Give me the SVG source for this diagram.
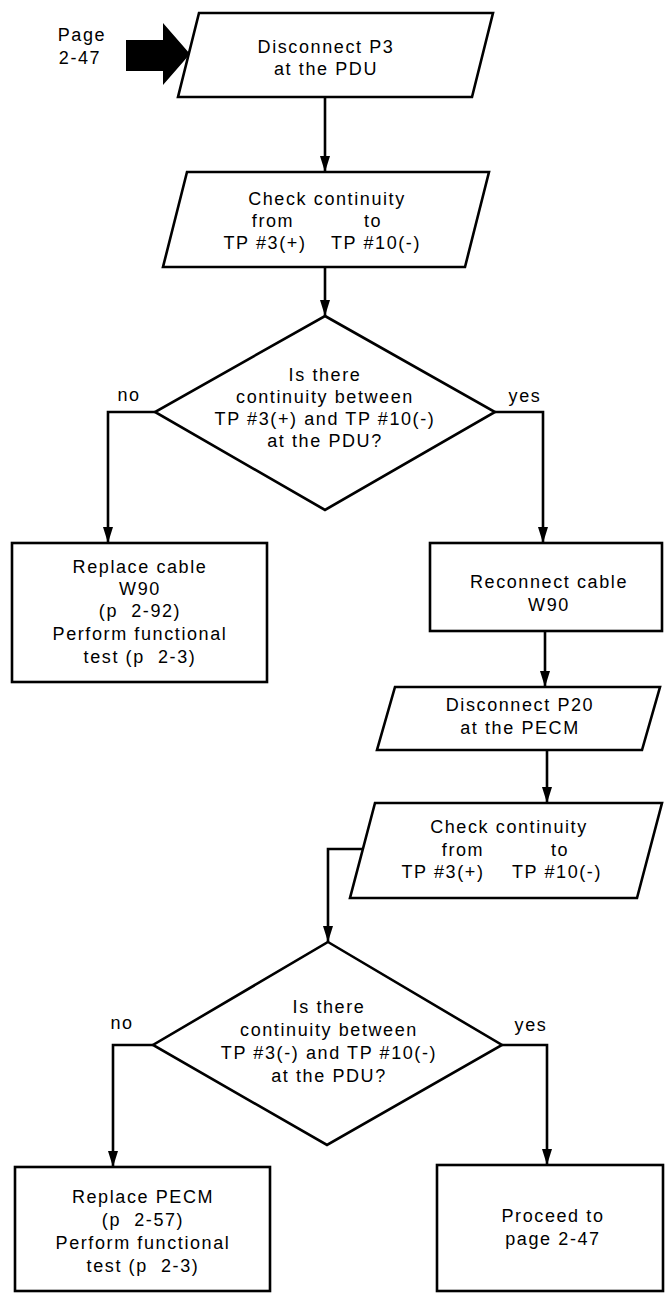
<svg xmlns="http://www.w3.org/2000/svg" width="665" height="1293" viewBox="0 0 665 1293">
<defs>
<style>
.t{font-family:"Liberation Sans",Arial,Helvetica,sans-serif;font-size:18px;letter-spacing:1.6px;fill:#000;text-anchor:middle}
.s{fill:#fff;stroke:#000;stroke-width:2.6;stroke-linejoin:miter}
.c{fill:none;stroke:#000;stroke-width:2.6}
</style>
<marker id="arr" markerUnits="userSpaceOnUse" markerWidth="16" markerHeight="10" refX="16" refY="5" orient="auto" viewBox="0 0 16 10">
<path d="M0,0 L16,5 L0,10 Z" fill="#000"/>
</marker>
</defs>
<rect width="665" height="1293" fill="#fff"/>

<g id="start">
<text class="t" x="82" y="41">Page</text>
<text class="t" x="80" y="64">2-47</text>
<path d="M126,40 H163 V23 L190,54 L163,85 V71 H126 Z" fill="#000"/>
</g>

<g id="connectors">
<line class="c" x1="325" y1="97" x2="325" y2="172" marker-end="url(#arr)"/>
<line class="c" x1="325" y1="267" x2="325" y2="316" marker-end="url(#arr)"/>
<polyline class="c" points="155,412 108,412 108,543" marker-end="url(#arr)"/>
<polyline class="c" points="495,412 543,412 543,543" marker-end="url(#arr)"/>
<line class="c" x1="545" y1="631" x2="545" y2="687" marker-end="url(#arr)"/>
<line class="c" x1="547" y1="750" x2="547" y2="803" marker-end="url(#arr)"/>
<polyline class="c" points="363,849 328,849 328,942" marker-end="url(#arr)"/>
<polyline class="c" points="153,1045 113,1045 113,1167" marker-end="url(#arr)"/>
<polyline class="c" points="502,1045 547,1045 547,1165" marker-end="url(#arr)"/>
<text class="t" x="129" y="401">no</text>
<text class="t" x="525" y="402">yes</text>
<text class="t" x="122" y="1029">no</text>
<text class="t" x="531" y="1031">yes</text>
</g>

<g id="disconnect-p3">
<polygon class="s" points="199,13 493,13 472,97 178,97"/>
<text class="t" x="326" y="53">Disconnect P3</text>
<text class="t" x="326" y="75">at the PDU</text>
</g>

<g id="check-continuity-1">
<polygon class="s" points="187,172 489,172 465,267 163,267"/>
<text class="t" x="327" y="205">Check continuity</text>
<text class="t" x="273" y="227">from</text>
<text class="t" x="373" y="227">to</text>
<text class="t" x="265" y="249">TP #3(+)</text>
<text class="t" x="376" y="249">TP #10(-)</text>
</g>

<g id="decision-1">
<polygon class="s" points="325,316 495,412 325,510 155,412"/>
<text class="t" x="325" y="381">Is there</text>
<text class="t" x="325" y="403">continuity between</text>
<text class="t" x="325" y="425">TP #3(+) and TP #10(-)</text>
<text class="t" x="325" y="447">at the PDU?</text>
</g>

<g id="replace-cable">
<rect class="s" x="12" y="543" width="255" height="139"/>
<text class="t" x="140" y="573">Replace cable</text>
<text class="t" x="140" y="595">W90</text>
<text class="t" x="140" y="617" xml:space="preserve">(p  2-92)</text>
<text class="t" x="140" y="640">Perform functional</text>
<text class="t" x="140" y="663" xml:space="preserve">test (p  2-3)</text>
</g>

<g id="reconnect-cable">
<rect class="s" x="430" y="543" width="232" height="88"/>
<text class="t" x="549" y="588">Reconnect cable</text>
<text class="t" x="549" y="611">W90</text>
</g>

<g id="disconnect-p20">
<polygon class="s" points="395,687 660,687 642,750 377,750"/>
<text class="t" x="520" y="711">Disconnect P20</text>
<text class="t" x="520" y="734">at the PECM</text>
</g>

<g id="check-continuity-2">
<polygon class="s" points="375,803 662,803 637,898 350,898"/>
<text class="t" x="509" y="833">Check continuity</text>
<text class="t" x="463" y="856">from</text>
<text class="t" x="560" y="856">to</text>
<text class="t" x="443" y="878">TP #3(+)</text>
<text class="t" x="557" y="878">TP #10(-)</text>
</g>

<g id="decision-2">
<polygon class="s" points="328,942 502,1045 327,1145 153,1045"/>
<text class="t" x="329" y="1013">Is there</text>
<text class="t" x="329" y="1036">continuity between</text>
<text class="t" x="329" y="1059">TP #3(-) and TP #10(-)</text>
<text class="t" x="329" y="1082">at the PDU?</text>
</g>

<g id="replace-pecm">
<rect class="s" x="15" y="1167" width="255" height="124"/>
<text class="t" x="143" y="1203">Replace PECM</text>
<text class="t" x="143" y="1226" xml:space="preserve">(p  2-57)</text>
<text class="t" x="143" y="1249">Perform functional</text>
<text class="t" x="143" y="1272" xml:space="preserve">test (p  2-3)</text>
</g>

<g id="proceed">
<rect class="s" x="437" y="1165" width="226" height="126"/>
<text class="t" x="553" y="1222">Proceed to</text>
<text class="t" x="553" y="1245">page 2-47</text>
</g>
</svg>
